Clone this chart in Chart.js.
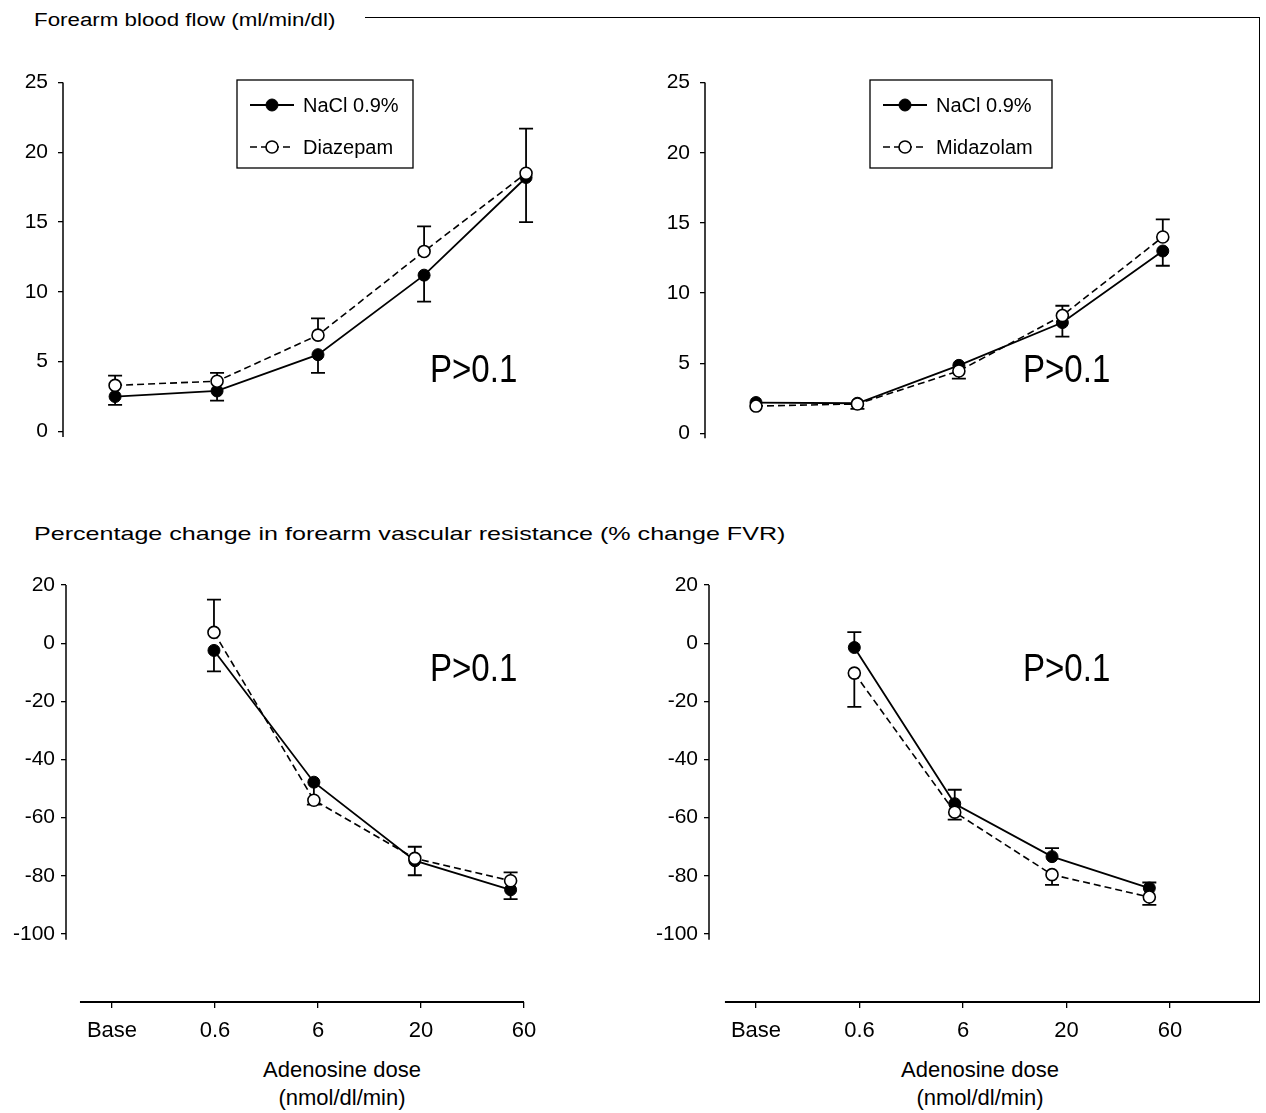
<!DOCTYPE html>
<html>
<head>
<meta charset="utf-8">
<script src="https://cdn.jsdelivr.net/npm/chart.js@4.4.1/dist/chart.umd.min.js"></script>
<style>
body { margin:0; background:#fff; width:1266px; height:1113px; position:relative; overflow:hidden;
       font-family:"Liberation Sans", Arial, Helvetica, sans-serif; color:#000; }
.pane { position:absolute; }
.txt { position:absolute; white-space:nowrap; line-height:1; }
.pval { font-size:38px; transform:scaleX(0.87); transform-origin:left top; }
.xlab { font-size:22px; width:300px; text-align:center; }
</style>
</head>
<body>

<div class="txt" style="left:34px;top:11px;font-size:18px;transform:scaleX(1.24);transform-origin:left top">Forearm blood flow (ml/min/dl)</div>
<div style="position:absolute;left:365px;top:17px;width:894px;height:985px;border-top:1px solid #000;border-right:1.5px solid #000"></div>
<div class="txt" style="left:34px;top:524px;font-size:19px;transform:scaleX(1.32);transform-origin:left top">Percentage change in forearm vascular resistance (% change FVR)</div>

<div class="pane" style="left:0;top:60px"><canvas id="flowLeft" width="600" height="400"></canvas></div>
<div class="pane" style="left:640px;top:60px"><canvas id="flowRight" width="620" height="401"></canvas></div>
<div class="pane" style="left:0;top:560px"><canvas id="fvrLeft" width="600" height="490"></canvas></div>
<div class="pane" style="left:640px;top:560px"><canvas id="fvrRight" width="620" height="490"></canvas></div>

<div class="txt pval" style="left:430px;top:350px">P&gt;0.1</div>
<div class="txt pval" style="left:1023px;top:350px">P&gt;0.1</div>
<div class="txt pval" style="left:430px;top:649px">P&gt;0.1</div>
<div class="txt pval" style="left:1023px;top:649px">P&gt;0.1</div>

<div class="txt xlab" style="left:192px;top:1059px">Adenosine dose</div>
<div class="txt xlab" style="left:192px;top:1087px">(nmol/dl/min)</div>
<div class="txt xlab" style="left:830px;top:1059px">Adenosine dose</div>
<div class="txt xlab" style="left:830px;top:1087px">(nmol/dl/min)</div>

<script>
const doseLabels = ['Base', '0.6', '6', '20', '60'];
const doseTicks = [0, 1, 2, 3, 4];
const flowTicks = [0, 5, 10, 15, 20, 25];
const fvrTicks = [-100, -80, -60, -40, -20, 0, 20];

// forearm blood flow (ml/min/dl), left: NaCl vs diazepam
const flowLeftX = [0.03, 1.02, 2.0, 3.03, 4.02];
const flowNaclL = [2.5, 2.9, 5.5, 11.2, 18.2];
const flowNaclLLow = [1.9, 2.2, 4.2, 9.3, 15.0];
const flowDiazepam = [3.3, 3.6, 6.9, 12.9, 18.5];
const flowDiazepamHigh = [4.0, 4.2, 8.1, 14.7, 21.7];

// forearm blood flow, right: NaCl vs midazolam
const flowRightX = [0, 0.98, 1.96, 2.96, 3.93];
const flowNaclR = [2.2, 2.15, 4.85, 7.9, 13.0];
const flowNaclRLow = [null, 1.75, null, 6.9, 11.95];
const flowMidazolam = [1.95, 2.1, 4.45, 8.4, 14.0];
const flowMidazolamLow = [null, null, 3.9, null, null];
const flowMidazolamHigh = [null, null, null, 9.1, 15.25];

// % change FVR, no baseline value
const fvrLeftX = [0.99, 1.96, 2.94, 3.87];
const fvrNaclL = [-2.5, -47.8, -74.8, -84.8];
const fvrNaclLLow = [-9.7, -55.5, -79.8, -88];
const fvrDiazepam = [3.7, -54, -74, -81.7];
const fvrDiazepamHigh = [15, null, -70, -78.8];

const fvrRightX = [0.95, 1.92, 2.86, 3.80];
const fvrNaclR = [-1.5, -55.2, -73.4, -84.2];
const fvrNaclRHigh = [3.8, -50.4, -70.5, -82.3];
const fvrMidazolam = [-10.3, -58.1, -79.6, -87.3];
const fvrMidazolamLow = [-21.9, -60.7, -83.1, -90];

function pts(xs, ys) {
  return xs.map((x, i) => ({x: x, y: ys[i]}));
}

function nacl(xs, ys, low, high) {
  return {
    label: 'NaCl 0.9%', data: pts(xs, ys), errLow: low, errHigh: high,
    showLine: true, borderColor: '#000', borderWidth: 1.8, tension: 0,
    pointRadius: 6, pointBackgroundColor: '#000', pointBorderColor: '#000', pointBorderWidth: 1,
    clip: false, order: 1
  };
}
function drug(name, xs, ys, low, high) {
  return {
    label: name, data: pts(xs, ys), errLow: low, errHigh: high,
    showLine: true, borderColor: '#000', borderWidth: 1.6, borderDash: [7, 4], tension: 0,
    pointRadius: 6, pointBackgroundColor: '#fff', pointBorderColor: '#000', pointBorderWidth: 1.6,
    clip: false, order: 0
  };
}

const errorBars = {
  id: 'errorBars',
  beforeDatasetsDraw(chart) {
    const ctx = chart.ctx, sx = chart.scales.x, sy = chart.scales.y;
    ctx.save();
    ctx.strokeStyle = '#000';
    ctx.lineWidth = 1.8;
    ctx.setLineDash([]);
    chart.data.datasets.forEach(ds => {
      [ds.errLow, ds.errHigh].forEach(e => {
        if (!e) return;
        ds.data.forEach((p, i) => {
          if (e[i] == null) return;
          const px = sx.getPixelForValue(p.x);
          const y0 = sy.getPixelForValue(p.y);
          const y1 = sy.getPixelForValue(e[i]);
          ctx.beginPath();
          ctx.moveTo(px, y0); ctx.lineTo(px, y1);
          ctx.moveTo(px - 7, y1); ctx.lineTo(px + 7, y1);
          ctx.stroke();
        });
      });
    });
    ctx.restore();
  }
};

const axisLines = {
  id: 'axisLines',
  afterDraw(chart, args, opts) {
    const ctx = chart.ctx, sx = chart.scales.x, sy = chart.scales.y;
    const left = chart.chartArea.left, bottom = chart.chartArea.bottom;
    ctx.save();
    ctx.strokeStyle = '#000';
    ctx.lineWidth = 1.5;
    ctx.beginPath();
    ctx.moveTo(left, sy.getPixelForValue(opts.yFrom));
    ctx.lineTo(left, sy.getPixelForValue(opts.yTo));
    ctx.stroke();
    if (opts.xFrom != null) {
      ctx.lineWidth = 2;
      ctx.beginPath();
      ctx.moveTo(sx.getPixelForValue(opts.xFrom), bottom);
      ctx.lineTo(sx.getPixelForValue(opts.xTo), bottom);
      ctx.stroke();
    }
    ctx.restore();
  }
};

const boxLegend = {
  id: 'boxLegend',
  afterDraw(chart, args, opts) {
    if (!opts.w) return;
    const ctx = chart.ctx;
    ctx.save();
    ctx.strokeStyle = '#000';
    ctx.lineWidth = 1.3;
    ctx.fillStyle = '#fff';
    ctx.fillRect(opts.x, opts.y, opts.w, opts.h);
    ctx.strokeRect(opts.x, opts.y, opts.w, opts.h);
    const rows = [opts.y + 25, opts.y + 67];
    chart.data.datasets.forEach((ds, i) => {
      const ry = rows[i];
      ctx.strokeStyle = '#000';
      ctx.lineWidth = ds.borderWidth;
      ctx.setLineDash(ds.borderDash || []);
      ctx.beginPath();
      ctx.moveTo(opts.x + 13, ry); ctx.lineTo(opts.x + 57, ry);
      ctx.stroke();
      ctx.setLineDash([]);
      ctx.beginPath();
      ctx.arc(opts.x + 35, ry, 6, 0, Math.PI * 2);
      ctx.fillStyle = ds.pointBackgroundColor;
      ctx.fill();
      ctx.lineWidth = ds.pointBorderWidth;
      ctx.stroke();
      ctx.fillStyle = '#000';
      ctx.font = '20px "Liberation Sans", Arial, sans-serif';
      ctx.textBaseline = 'middle';
      ctx.fillText(ds.label, opts.x + 66, ry + 1);
    });
    ctx.restore();
  }
};

function makePanel(id, p) {
  const tickFont = {family: '"Liberation Sans", Arial, sans-serif', size: 21};
  return new Chart(document.getElementById(id), {
    type: 'scatter',
    data: {datasets: p.datasets},
    options: {
      responsive: false,
      animation: false,
      layout: {padding: {top: p.padTop, bottom: p.padBottom, left: 0, right: 20}},
      plugins: {
        legend: {display: false},
        tooltip: {enabled: false},
        axisLines: p.axes,
        boxLegend: p.legend || {}
      },
      scales: {
        x: {
          type: 'linear', min: p.xMin, max: p.xMax, display: p.showX,
          afterBuildTicks: s => { s.ticks = doseTicks.map(v => ({value: v})); },
          afterFit: s => { s.height = p.showX ? 48 : 0; },
          border: {display: false},
          grid: {drawOnChartArea: false, drawTicks: true, tickLength: 6, color: '#000', lineWidth: 1.3},
          ticks: {
            color: '#000', padding: 10,
            font: {family: '"Liberation Sans", Arial, sans-serif', size: 22},
            callback: v => doseLabels[v] ?? ''
          }
        },
        y: {
          type: 'linear', min: p.yMin, max: p.yMax,
          afterBuildTicks: s => { s.ticks = p.yTicks.map(v => ({value: v})); },
          afterFit: s => { s.width = p.yWidth; },
          border: {display: false},
          grid: {drawOnChartArea: false, drawTicks: true, tickLength: 5, color: '#000', lineWidth: 1.3},
          ticks: {color: '#000', padding: p.yPad, font: tickFont}
        }
      }
    },
    plugins: [errorBars, axisLines, boxLegend]
  });
}

makePanel('flowLeft', {
  datasets: [nacl(flowLeftX, flowNaclL, flowNaclLLow, null),
             drug('Diazepam', flowLeftX, flowDiazepam, null, flowDiazepamHigh)],
  xMin: -0.4757, xMax: 4.5437, yMin: -0.4286, yMax: 25, yTicks: flowTicks,
  yWidth: 63, yPad: 10, padTop: 20, padBottom: 14, showX: false,
  axes: {yFrom: 25, yTo: -0.4},
  legend: {x: 237, y: 20, w: 176, h: 88}
});

makePanel('flowRight', {
  datasets: [nacl(flowRightX, flowNaclR, flowNaclRLow, null),
             drug('Midazolam', flowRightX, flowMidazolam, flowMidazolamLow, flowMidazolamHigh)],
  xMin: -0.4928, xMax: 4.676, yMin: -0.354, yMax: 25, yTicks: flowTicks,
  yWidth: 65, yPad: 10, padTop: 20, padBottom: 14, showX: false,
  axes: {yFrom: 25, yTo: -0.35},
  legend: {x: 230, y: 20, w: 182, h: 88}
});

makePanel('fvrLeft', {
  datasets: [nacl(fvrLeftX, fvrNaclL, fvrNaclLLow, null),
             drug('Diazepam', fvrLeftX, fvrDiazepam, null, fvrDiazepamHigh)],
  xMin: -0.4466, xMax: 4.5437, yMin: -123.38, yMax: 20, yTicks: fvrTicks,
  yWidth: 66, yPad: 6, padTop: 25, padBottom: 0, showX: true,
  axes: {yFrom: 20, yTo: -102, xFrom: -0.311, xTo: 4}
});

makePanel('fvrRight', {
  datasets: [nacl(fvrRightX, fvrNaclR, null, fvrNaclRHigh),
             drug('Midazolam', fvrRightX, fvrMidazolam, fvrMidazolamLow, null)],
  xMin: -0.454, xMax: 4.676, yMin: -123.38, yMax: 20, yTicks: fvrTicks,
  yWidth: 69, yPad: 6, padTop: 25, padBottom: 0, showX: true,
  axes: {yFrom: 20, yTo: -102, xFrom: -0.3, xTo: 4.9}
});
</script>
</body>
</html>
